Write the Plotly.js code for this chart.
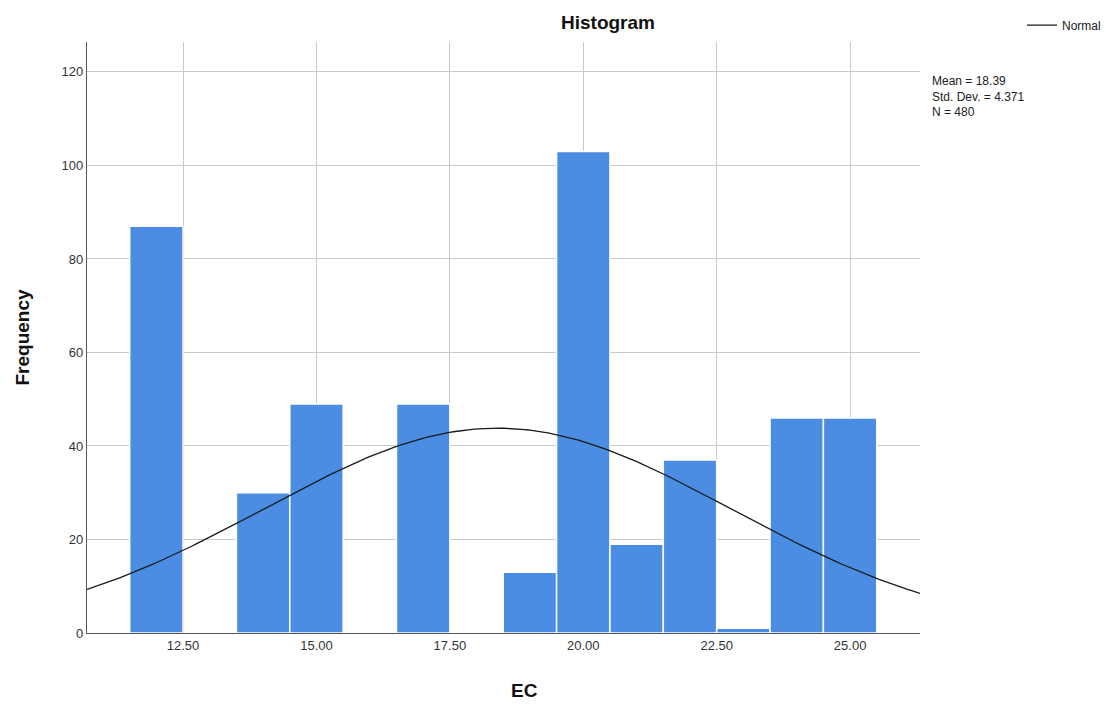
<!DOCTYPE html>
<html>
<head>
<meta charset="utf-8">
<script src="https://cdn.plot.ly/plotly-3.0.1.min.js"></script>
<style>html,body{margin:0;padding:0;background:#fff;}#chart{width:1106px;height:707px;}</style>
</head>
<body>
<div id="chart"></div>
<script>
// Histogram bins (centres, bin width 1) and frequencies
const binCenters = [12, 14, 15, 17, 19, 20, 21, 22, 23, 24, 25];
const counts     = [87, 30, 49, 49, 13, 103, 19, 37, 1, 46, 46];
const binWidth = 1;
// Statistics shown in the chart
const statMean = 18.39;
const statSD = 4.371;
const statN = 480;
const xTickVals = [12.5, 15, 17.5, 20, 22.5, 25];
const yTickVals = [0, 20, 40, 60, 80, 100, 120];
const xRange = [10.7, 26.31];

// Normal curve defined by the displayed Mean, Std. Dev. and N
const curveX = [], curveY = [];
for (let i = 0; i <= 200; i++) {
  const x = xRange[0] + (xRange[1] - xRange[0]) * i / 200;
  const z = (x - statMean) / statSD;
  curveX.push(x);
  curveY.push(statN * binWidth * Math.exp(-0.5 * z * z) / (statSD * Math.sqrt(2 * Math.PI)));
}

const font = "Arial, 'Liberation Sans', sans-serif";

const traces = [
  {
    type: 'bar', x: binCenters, y: counts, width: binWidth,
    marker: {color: '#4a8de2', line: {color: '#ffffff', width: 1.5}},
    showlegend: false, hoverinfo: 'x+y'
  },
  {
    type: 'scatter', mode: 'lines', x: curveX, y: curveY, name: 'Normal',
    line: {color: '#1a1a1a', width: 1.3}, showlegend: true
  }
];

const layout = {
  width: 1106, height: 707,
  margin: {l: 87, r: 186, t: 42, b: 74},
  paper_bgcolor: '#ffffff', plot_bgcolor: '#ffffff',
  font: {family: font, color: '#222'},
  bargap: 0,
  xaxis: {
    range: xRange, tickvals: xTickVals, tickformat: '.2f',
    showgrid: true, gridcolor: '#c9c9c9', gridwidth: 1,
    showline: true, linecolor: '#555', linewidth: 1.2,
    zeroline: false, ticks: '', ticklen: 0,
    tickfont: {size: 13, color: '#333', family: font}
  },
  yaxis: {
    range: [0, 126.4], tickvals: yTickVals,
    showgrid: true, gridcolor: '#c9c9c9', gridwidth: 1,
    showline: true, linecolor: '#555', linewidth: 1.2,
    zeroline: false, ticks: '',
    tickfont: {size: 13, color: '#333', family: font}
  },
  showlegend: true,
  legend: {
    xref: 'container', yref: 'container', x: 1.0, y: 0.985, xanchor: 'right', yanchor: 'top',
    font: {size: 12, color: '#222', family: font}, itemwidth: 30, bgcolor: 'rgba(0,0,0,0)',
    borderwidth: 0
  },
  annotations: [
    {text: '<b>Histogram</b>', xref: 'paper', yref: 'paper', x: 0.6255, y: 1.0, yshift: 20,
     xanchor: 'center', yanchor: 'middle', showarrow: false, font: {size: 19, color: '#111', family: font}},
    {text: '<b>Frequency</b>', xref: 'paper', yref: 'paper', x: 0, xshift: -65, y: 0.5,
     xanchor: 'center', yanchor: 'middle', textangle: -90, showarrow: false, font: {size: 19, color: '#111', family: font}},
    {text: '<b>EC</b>', xref: 'paper', yref: 'paper', x: 0.525, y: 0, yshift: -57,
     xanchor: 'center', yanchor: 'middle', showarrow: false, font: {size: 19, color: '#111', family: font}},
    {text: 'Mean = ' + statMean.toFixed(2) + '<br>Std. Dev. = ' + statSD.toFixed(3) + '<br>N = ' + statN,
     xref: 'paper', yref: 'paper', x: 1, xshift: 10, y: 1, yshift: -30,
     xanchor: 'left', yanchor: 'top', align: 'left', showarrow: false,
     font: {size: 12, color: '#222', family: font}}
  ]
};

Plotly.newPlot('chart', traces, layout, {displayModeBar: false, staticPlot: true});
</script>
</body>
</html>
